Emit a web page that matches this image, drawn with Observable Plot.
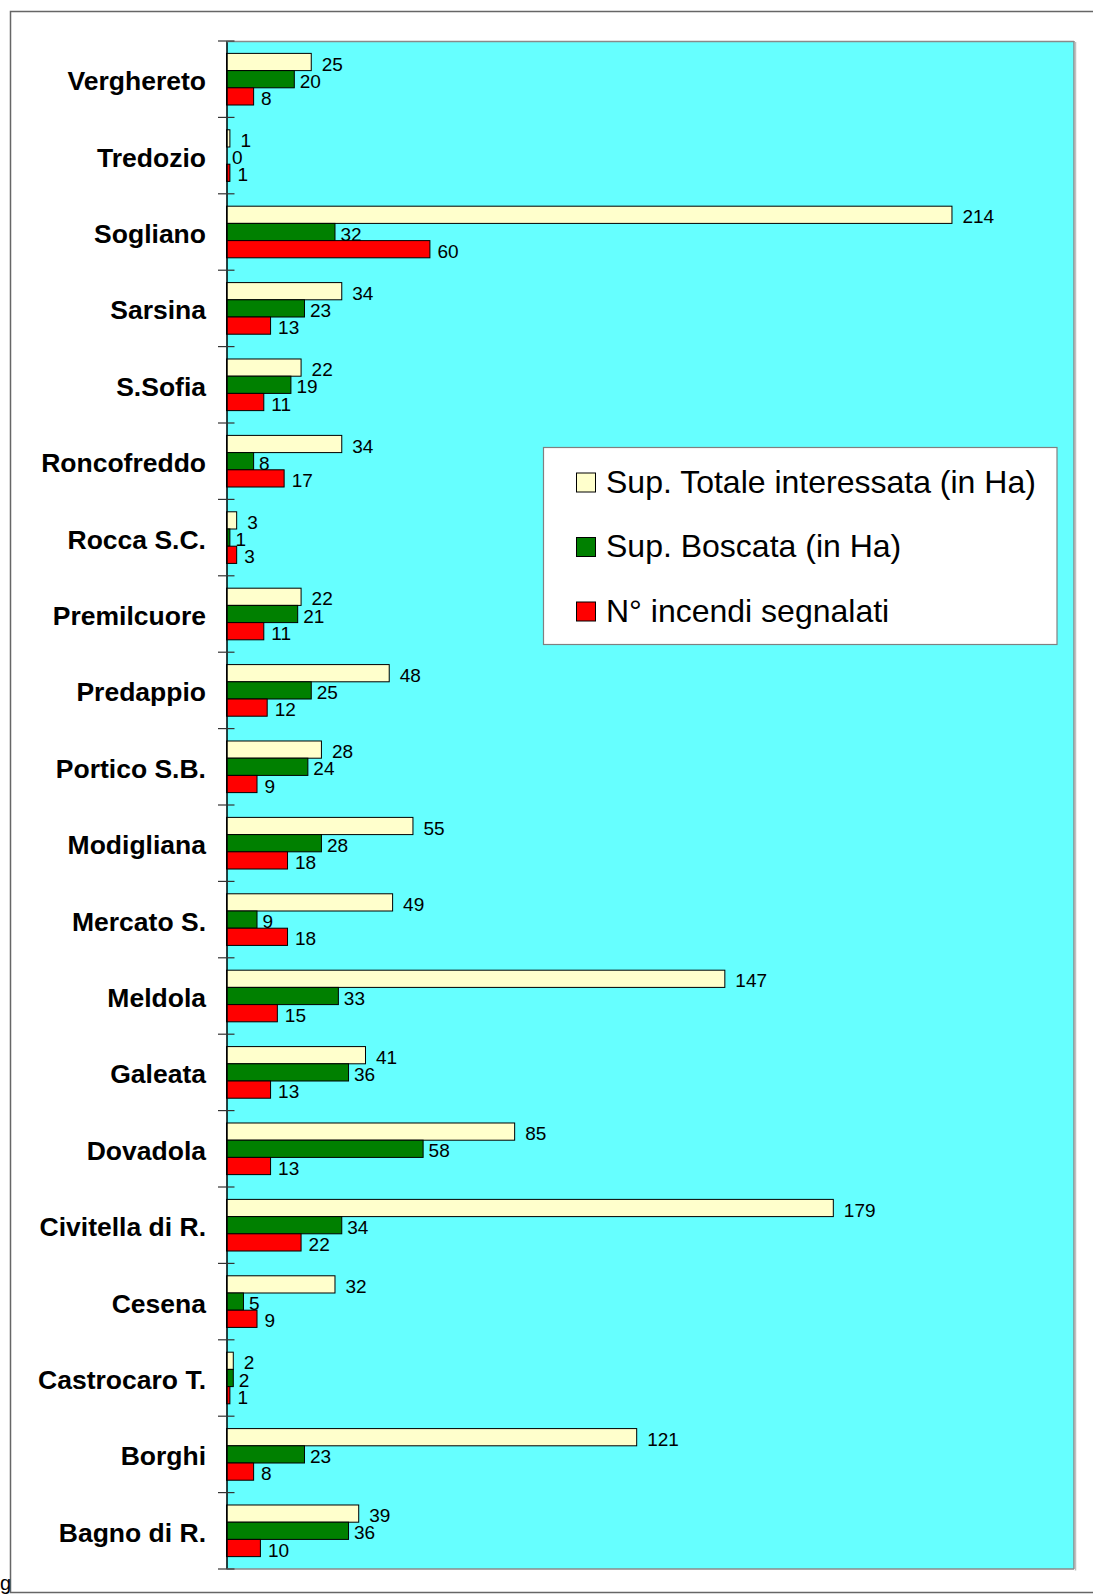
<!DOCTYPE html>
<html>
<head>
<meta charset="utf-8">
<script src="https://cdn.jsdelivr.net/npm/d3@7"></script>
<script src="https://cdn.jsdelivr.net/npm/@observablehq/plot@0.6"></script>
<style>
  html, body { margin: 0; padding: 0; background: #fff; }
  svg { display: block; }
</style>
</head>
<body>
<div id="chart"></div>
<script>
const categories = ["Verghereto", "Tredozio", "Sogliano", "Sarsina", "S.Sofia", "Roncofreddo", "Rocca S.C.", "Premilcuore", "Predappio", "Portico S.B.", "Modigliana", "Mercato S.", "Meldola", "Galeata", "Dovadola", "Civitella di R.", "Cesena", "Castrocaro T.", "Borghi", "Bagno di R."];
const seriesNames = ["Sup. Totale interessata (in Ha)", "Sup. Boscata (in Ha)", "N° incendi segnalati"];
const seriesColors = ["#FFFFCC", "#008000", "#FF0000"];
const supTotale = [25, 1, 214, 34, 22, 34, 3, 22, 48, 28, 55, 49, 147, 41, 85, 179, 32, 2, 121, 39];
const supBoscata = [20, 0, 32, 23, 19, 8, 1, 21, 25, 24, 28, 9, 33, 36, 58, 34, 5, 2, 23, 36];
const nIncendi = [8, 1, 60, 13, 11, 17, 3, 11, 12, 9, 18, 18, 15, 13, 13, 22, 9, 1, 8, 10];

const seriesValues = [supTotale, supBoscata, nIncendi];
const rows = [];
categories.forEach((c, i) => {
  seriesNames.forEach((s, j) => rows.push({category: c, series: s, value: seriesValues[j][i]}));
});

const FONT = "'Liberation Sans', Arial, sans-serif";
const labelDx = [10, 5, 7];

const plot = Plot.plot({
  width: 1093,
  height: 1594,
  marginLeft: 226.5,
  marginRight: 19,
  marginTop: 41,
  marginBottom: 25,
  style: {fontFamily: FONT, color: "#000", background: "transparent", overflow: "visible"},
  x: {domain: [0, 250], axis: null},
  y: {domain: seriesNames, paddingInner: 0, paddingOuter: 0.72, axis: null, round: false},
  fy: {domain: categories, padding: 0, round: false, label: null},
  color: {domain: seriesNames, range: seriesColors},
  marks: [
    Plot.barX(rows, {x: "value", y: "series", fy: "category", fill: "series", stroke: "#000", strokeWidth: 1}),
    ...seriesNames.map((s, i) => Plot.text(rows.filter(d => d.series === s), {
      x: "value", y: "series", fy: "category", text: d => String(d.value),
      textAnchor: "start", dx: labelDx[i], dy: 2, fontSize: 19, fill: "#000"
    })),
    Plot.ruleX([0], {stroke: "#000", strokeWidth: 1.5}),
    Plot.axisFy({anchor: "left", tickSize: 0, tickPadding: 21, dy: 2, fontSize: 26.5, fontWeight: "bold", label: null})
  ]
});

document.getElementById("chart").appendChild(plot);

const svg = d3.select(plot);
const fyS = plot.scale("fy");
const xS = plot.scale("x");
const [y0, y1] = fyS.range;
const [x0, x1] = xS.range;

// plot area background, behind everything
svg.insert("rect", ":first-child")
  .attr("x", x0).attr("y", y0).attr("width", x1 - x0).attr("height", y1 - y0)
  .attr("fill", "#66FFFF");

// plot area border (top, right, bottom)
const border = svg.append("g").attr("fill", "none");
border.append("line").attr("x1", x0).attr("x2", x1).attr("y1", y0 + 0.5).attr("y2", y0 + 0.5).attr("stroke", "#8a8a8a").attr("stroke-width", 1.5);
border.append("line").attr("x1", x1).attr("x2", x1).attr("y1", y0).attr("y2", y1).attr("stroke", "#8a8a8a").attr("stroke-width", 1.5);
border.append("line").attr("x1", x1 + 1.5).attr("x2", x1 + 1.5).attr("y1", y0 + 1).attr("y2", y1 + 1.5).attr("stroke", "#c0c0c0").attr("stroke-width", 1.5);
border.append("line").attr("x1", x0).attr("x2", x1).attr("y1", y1).attr("y2", y1).attr("stroke", "#8a8a8a").attr("stroke-width", 1.5);

// category boundary ticks
const ticks = svg.append("g").attr("stroke", "#333").attr("stroke-width", 1.2);
for (let i = 0; i <= categories.length; i++) {
  const yy = y0 + i * fyS.step;
  ticks.append("line").attr("x1", x0 - 8.5).attr("x2", x0 + 8).attr("y1", yy).attr("y2", yy);
}

// outer chart frame
svg.append("rect").attr("x", 10.5).attr("y", 11.5).attr("width", 1100).attr("height", 1581)
  .attr("fill", "none").attr("stroke", "#666").attr("stroke-width", 1.5);

svg.append("text").attr("x", 0).attr("y", 1590).attr("font-size", 20).attr("font-family", FONT)
  .attr("text-anchor", "start").text("g");

// legend
const lg = svg.append("g").attr("font-family", FONT).attr("text-anchor", "start");
lg.append("rect").attr("x", 543.5).attr("y", 447.5).attr("width", 513.5).attr("height", 197)
  .attr("fill", "#fff").attr("stroke", "#808080").attr("stroke-width", 1.2);
seriesNames.forEach((s, i) => {
  const cy = 482.5 + i * 64.5;
  lg.append("rect").attr("x", 576.5).attr("y", cy - 9.5).attr("width", 19).attr("height", 19)
    .attr("fill", seriesColors[i]).attr("stroke", "#000").attr("stroke-width", 1);
  lg.append("text").attr("x", 606).attr("y", cy + 10).attr("font-size", 32).attr("fill", "#000")
    .attr("text-anchor", "start").text(s);
});
</script>
</body>
</html>
